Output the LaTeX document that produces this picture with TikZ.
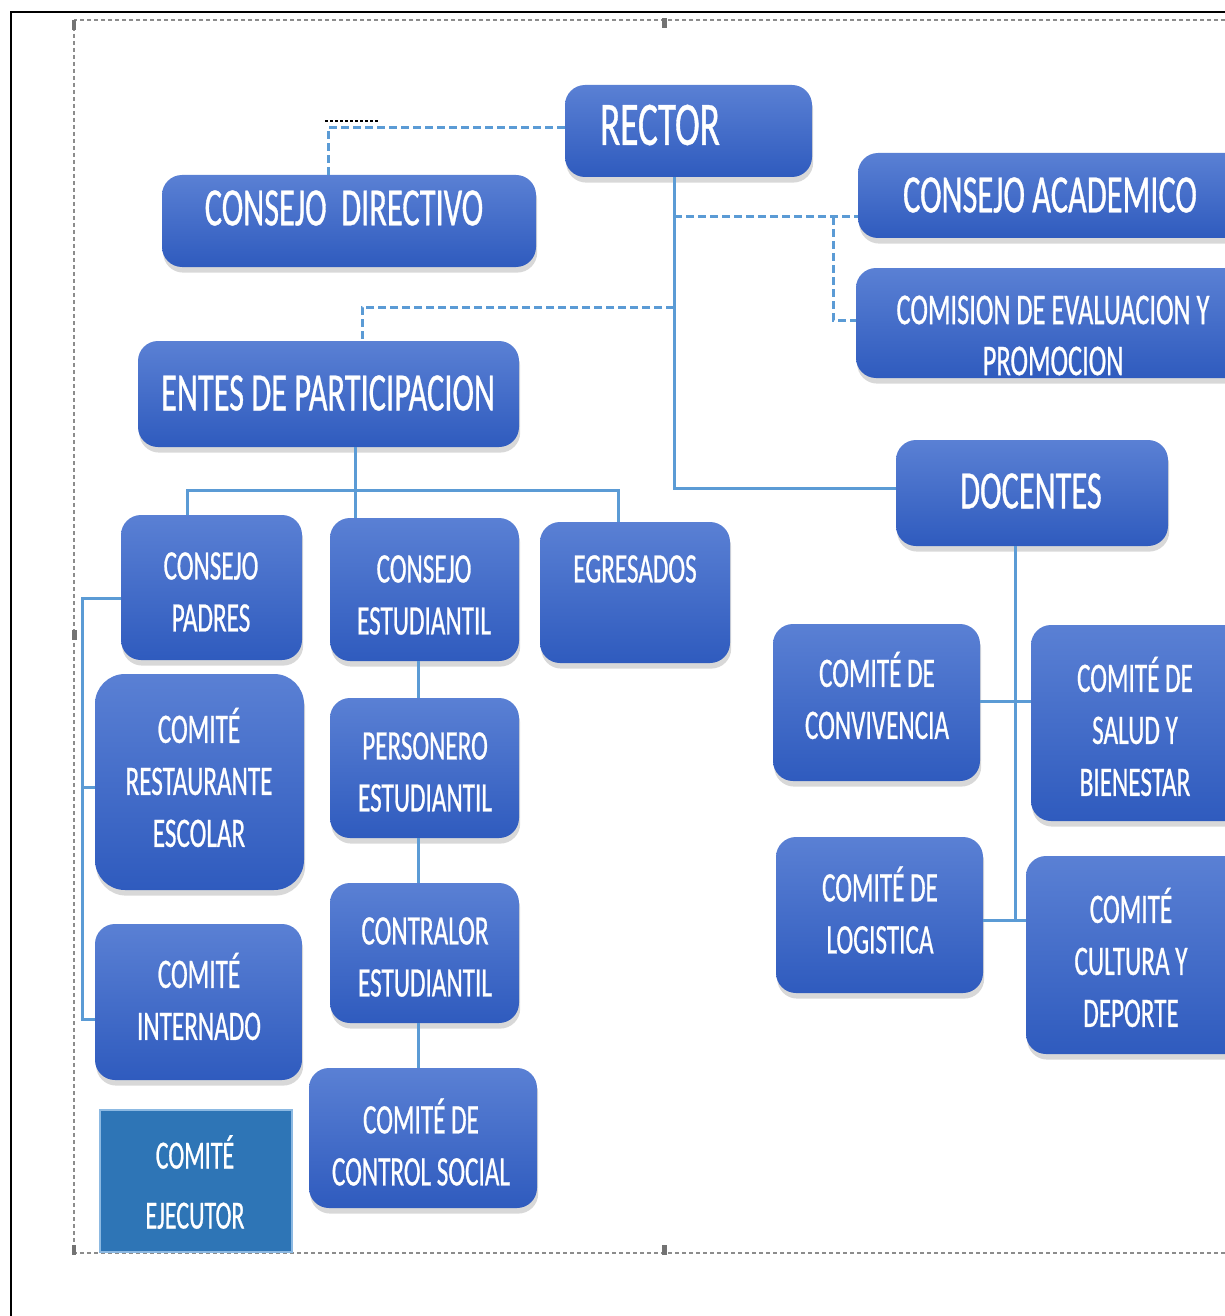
\documentclass[tikz,border=0pt]{standalone}
\usepackage{fontspec}
\setmainfont{Carlito}[FakeStretch=0.6, FakeBold=0.6]
\usetikzlibrary{shadows}
\definecolor{boxtop}{HTML}{5A80D4}
\definecolor{boxbot}{HTML}{2F5BBE}
\definecolor{lnblue}{HTML}{5B9BD5}
\definecolor{ejec}{HTML}{2E75B6}
\tikzset{
  box/.style={rounded corners=10pt, top color=boxtop, bottom color=boxbot, draw=none, inner sep=0pt,
    drop shadow={opacity=0.3, shadow xshift=0.6pt, shadow yshift=-2.8pt}},
  wh/.style 2 args={minimum width=#1*0.5pt, minimum height=#2*0.5pt},
  txt/.style={text=white, align=center, inner sep=0pt},
  fbig/.style={font=\fontsize{31}{37}\selectfont},
  fmid/.style={font=\fontsize{27}{32}\selectfont},
  fcom/.style={font=\fontsize{22}{25.5}\selectfont},
  fsm/.style={font=\fontsize{21}{26}\selectfont},
  fej/.style={font=\fontsize{20}{30}\selectfont},
  conn/.style={draw=lnblue, line width=1.5pt},
  dconn/.style={draw=lnblue, line width=1.5pt, dash pattern=on 4pt off 2pt},
  pinmark/.style={fill=black!55}
}
\begin{document}
\begin{tikzpicture}[x=0.5pt,y=-0.5pt]
\useasboundingbox (0,0) rectangle (1225,1316);
\clip (0,0) rectangle (1225,1316);
\fill[white] (0,0) rectangle (1225,1316);
% frames
\draw[black, line width=1pt] (11,1316) -- (11,12) -- (1225,12);
\draw[black!45, line width=0.6pt, dash pattern=on 2pt off 1.5pt] (74,20) rectangle (1240,1253);
\fill[pinmark] (72,20) rectangle (76,30);
\fill[pinmark] (662,18) rectangle (667,28);
\fill[pinmark] (72,630) rectangle (77,640);
\fill[pinmark] (72,1245) rectangle (76,1255);
\fill[pinmark] (662,1245) rectangle (667,1255);
\draw[black, line width=1pt, dash pattern=on 1.5pt off 1pt] (325,121) -- (380,121);

% boxes
\node[box, wh={247}{92}]  (rector) at (688.5,131) {};
\node[box, wh={374}{92}]  (cdir)   at (349,221) {};
\node[box, wh={402}{85}]  (cacad)  at (1059,195.5) {};
\node[box, wh={404}{110}] (comis)  at (1058,323) {};
\node[box, wh={381}{106}] (entes)  at (328.5,394) {};
\node[box, wh={272}{106}] (docen)  at (1032,493) {};
\node[box, wh={181}{145}] (cpad)   at (211.5,587.5) {};
\node[box, wh={189}{143}] (cest)   at (424.5,589.5) {};
\node[box, wh={190}{141}] (egre)   at (635,592.5) {};
\node[box, wh={209}{216}, rounded corners=15pt] (crest) at (199.5,782) {};
\node[box, wh={189}{140}] (pers)   at (424.5,768) {};
\node[box, wh={207}{156}] (cint)   at (198.5,1002) {};
\node[box, wh={189}{140}] (contr)  at (424.5,953) {};
\node[box, wh={228}{140}] (csoc)   at (423,1138) {};
\node[fill=ejec, draw=lnblue!70, line width=0.8pt, inner sep=0pt, wh={192}{142}] (cejec) at (196,1181) {};
\node[box, wh={207}{157}] (cconv)  at (876.5,702.5) {};
\node[box, wh={229}{196}] (csal)   at (1145.5,723) {};
\node[box, wh={207}{156}] (clog)   at (879.5,915) {};
\node[box, wh={234}{198}] (ccul)   at (1143,955) {};

% texts
\node[txt, fbig] (t-rector) at (660,125) {RECTOR};
\node[txt, fmid] (t-cdir) at (344,208) {CONSEJO\ \ DIRECTIVO};
\node[txt, fmid] (t-cacad) at (1050,195) {CONSEJO ACADEMICO};
\node[txt, fcom] (t-comis) at (1053,335.5) {COMISION DE EVALUACION Y\\PROMOCION};
\node[txt, fmid] (t-entes) at (328,393) {ENTES DE PARTICIPACION};
\node[txt, fmid] (t-docen) at (1031,491) {DOCENTES};
\node[txt, fsm] (t-cpad) at (211,592) {CONSEJO\\PADRES};
\node[txt, fsm] (t-cest) at (424,595) {CONSEJO\\ESTUDIANTIL};
\node[txt, fsm] (t-egre) at (635,569) {EGRESADOS};
\node[txt, fsm] (t-crest) at (199,777.5) {COMITÉ\\RESTAURANTE\\ESCOLAR};
\node[txt, fsm] (t-pers) at (425,772) {PERSONERO\\ESTUDIANTIL};
\node[txt, fsm] (t-cint) at (199,996.5) {COMITÉ\\INTERNADO};
\node[txt, fsm] (t-contr) at (425,957) {CONTRALOR\\ESTUDIANTIL};
\node[txt, fsm] (t-csoc) at (421,1142) {COMITÉ DE\\CONTROL SOCIAL};
\node[txt, fej] (t-cejec) at (195,1182) {COMITÉ\\EJECUTOR};
\node[txt, fsm] (t-cconv) at (877,695.5) {COMITÉ DE\\CONVIVENCIA};
\node[txt, fsm] (t-csal) at (1135,726.5) {COMITÉ DE\\SALUD Y\\BIENESTAR};
\node[txt, fsm] (t-clog) at (880,910) {COMITÉ DE\\LOGISTICA};
\node[txt, fsm] (t-ccul) at (1131,957.5) {COMITÉ\\CULTURA Y\\DEPORTE};

% junction coordinates
\coordinate (t1) at (674,217);
\coordinate (t2) at (833,217);
\coordinate (t3) at (674,307);
\coordinate (b1) at (355,490);
\coordinate (bk) at (82,1019);
\coordinate (bk2) at (82,787);
\coordinate (d1) at (1015,920);

% connectors
\draw[dconn] ([yshift=1.5pt]rector.west) -| ([xshift=-10.5pt]cdir.north);
\draw[conn] ([xshift=-7.25pt]rector.south) |- ([yshift=2.5pt]docen.west);
\draw[dconn] (t1) -- ([yshift=-10.75pt]cacad.west);
\draw[dconn] (t2) |- ([yshift=1.5pt]comis.west);
\draw[dconn] (t3) -| ([xshift=16.75pt]entes.north);
\draw[conn] ([xshift=13.25pt]entes.south) -- ([xshift=-34.75pt]cest.north);
\draw[conn] (b1) -| ([xshift=-12.25pt]cpad.north);
\draw[conn] (b1) -| ([xshift=-8.5pt]egre.north);
\draw[conn] ([xshift=-3.25pt]cest.south) -- ([xshift=-3.25pt]pers.north);
\draw[conn] ([xshift=-3.25pt]pers.south) -- ([xshift=-3.25pt]contr.north);
\draw[conn] ([xshift=-3.25pt]contr.south) -- ([xshift=-2.5pt]csoc.north);
\draw[conn] ([yshift=-5.25pt]cpad.west) -| (bk) -- ([yshift=-8.5pt]cint.west);
\draw[conn] (bk2) -- ([yshift=-2.5pt]crest.west);
\draw[conn] ([xshift=-8.5pt]docen.south) -- (d1);
\draw[conn] ([yshift=0.75pt]cconv.east) -- ([yshift=11pt]csal.west);
\draw[conn] ([yshift=-2.5pt]clog.east) -- ([yshift=17.5pt]ccul.west);
\end{tikzpicture}
\end{document}
